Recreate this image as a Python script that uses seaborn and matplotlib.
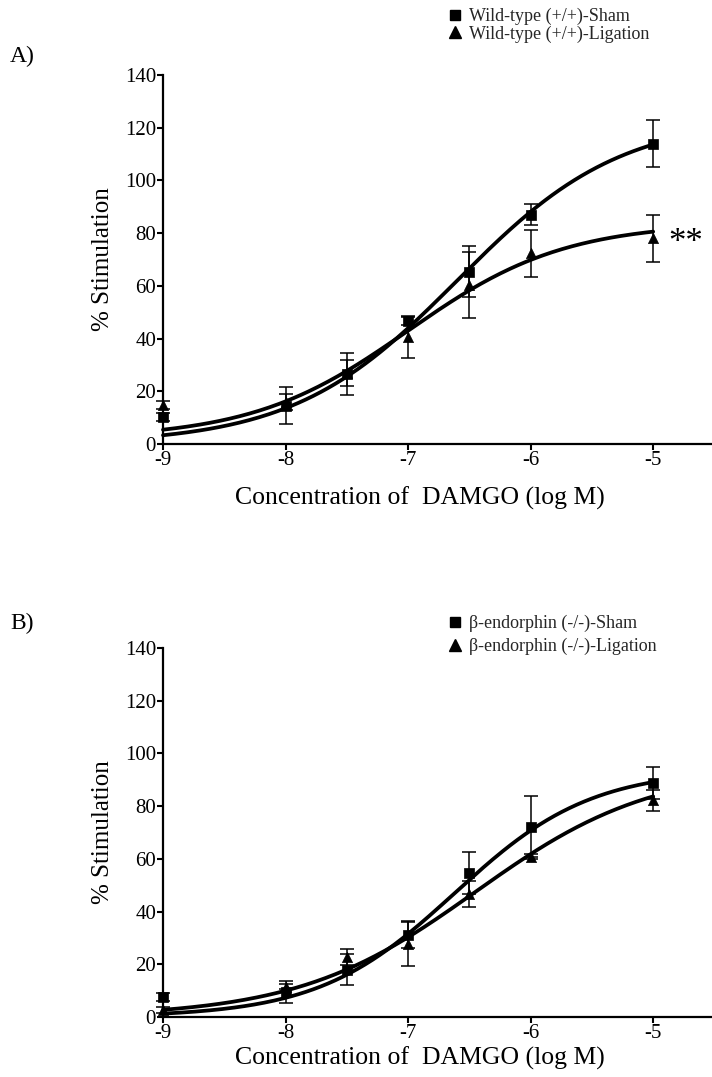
import numpy as np
import pandas as pd
import matplotlib
matplotlib.use("Agg")
import matplotlib.pyplot as plt
from matplotlib.lines import Line2D
import seaborn as sns

# ---------------- data ----------------
log_conc = [-9, -8, -7.5, -7, -6.5, -6, -5]

# Panel A : wild-type
a_sham = [10.2, 14.5, 26.5, 46.5, 65.4, 87.0, 114.0]
a_sham_err = [1.5, 7.0, 8.0, 1.5, 9.6, 4.0, 8.8]
a_lig = [14.8, 16.0, 27.0, 40.5, 60.3, 72.3, 78.0]
a_lig_err = [1.5, 3.0, 5.0, 8.0, 12.5, 8.8, 9.0]

# Panel B : beta-endorphin knockout
b_sham = [7.7, 9.6, 18.0, 31.1, 54.5, 72.2, 88.7]
b_sham_err = [1.5, 4.2, 6.0, 5.0, 8.0, 11.5, 6.0]
b_lig = [2.7, 11.5, 22.9, 27.8, 46.7, 60.8, 82.3]
b_lig_err = [1.0, 1.0, 3.0, 8.5, 5.0, 1.0, 4.0]

# fitted sigmoid (Hill) parameters: bottom, top, logEC50, hill slope
a_sham_fit = (0.0, 124.0, -6.6, 0.65)
a_lig_fit = (2.0, 84.0, -7.0, 0.68)
b_sham_fit = (0.0, 94.0, -6.62, 0.78)
b_lig_fit = (0.0, 95.0, -6.45, 0.60)

x_ticks = [-9, -8, -7, -6, -5]
y_ticks = [0, 20, 40, 60, 80, 100, 120, 140]

legend_a = ["Wild-type (+/+)-Sham", "Wild-type (+/+)-Ligation"]
legend_b = ["\u03b2-endorphin (-/-)-Sham", "\u03b2-endorphin (-/-)-Ligation"]
xlabel = "Concentration of  DAMGO (log M)"
ylabel = "% Stimulation"

# ---------------- style ----------------
sns.set_theme(style="ticks")
plt.rcParams["font.family"] = ["Liberation Serif", "DejaVu Serif"]

W, H = 712, 1077
fig = plt.figure(figsize=(W / 100, H / 100), dpi=100)
fig.patch.set_facecolor("white")


def hill(x, p):
    b, t, e, h = p
    return b + (t - b) / (1 + 10 ** ((e - x) * h))


def panel(ax_rect, sham, sham_err, lig, lig_err, fit_s, fit_l, labels,
          leg_anchor, leg_spacing, panel_label, panel_label_y, xlabel_y):
    ax = fig.add_axes(ax_rect)
    ax.set_facecolor("white")
    xs = np.linspace(-9, -5, 200)
    curves = pd.DataFrame({
        "x": np.concatenate([xs, xs]),
        "y": np.concatenate([hill(xs, fit_s), hill(xs, fit_l)]),
        "grp": ["s"] * len(xs) + ["l"] * len(xs),
    })
    sns.lineplot(data=curves, x="x", y="y", units="grp", estimator=None,
                 color="black", lw=2.7, ax=ax, clip_on=False)
    for vals, errs, mk, ms in [(lig, lig_err, "^", 7.3), (sham, sham_err, "s", 7.3)]:
        ax.errorbar(log_conc, vals, yerr=errs, fmt="none", ecolor="black",
                    elinewidth=1.1, capsize=4.8, capthick=1.1, clip_on=False, zorder=4)
        pts = pd.DataFrame({"x": log_conc, "y": vals})
        sns.scatterplot(data=pts, x="x", y="y", marker=mk, s=ms ** 2,
                        color="black", edgecolor="black", linewidth=0.5,
                        ax=ax, clip_on=False, zorder=5)
    ax.set_xlim(-9, -4.52)
    ax.set_ylim(0, 140)
    ax.set_xticks(x_ticks)
    ax.set_xticklabels([str(t) for t in x_ticks])
    ax.set_yticks(y_ticks)
    ax.set_yticklabels([str(t) for t in y_ticks])
    for s in ["top", "right"]:
        ax.spines[s].set_visible(False)
    for s in ["left", "bottom"]:
        ax.spines[s].set_linewidth(1.6)
        ax.spines[s].set_color("black")
    ax.tick_params(axis="both", direction="out", length=4.5, width=1.5,
                   color="black", labelsize=15, labelcolor="black", pad=0.5)
    ax.set_xlabel(xlabel, fontsize=18.5, color="black")
    ax.set_ylabel(ylabel, fontsize=18, color="black")
    ax.xaxis.set_label_coords(0.468, xlabel_y)
    ax.yaxis.set_label_coords(-0.089, 0.5)
    handles = [
        Line2D([], [], marker="s", ls="none", color="black", markersize=7),
        Line2D([], [], marker="^", ls="none", color="black", markersize=8),
    ]
    fig.legend(handles, labels, loc="upper left",
               bbox_to_anchor=(leg_anchor[0] / W, 1 - leg_anchor[1] / H),
               frameon=False, fontsize=13, handlelength=0.8,
               handletextpad=0.35, labelspacing=leg_spacing, borderpad=0,
               borderaxespad=0)
    fig.text(10 / W, 1 - panel_label_y / H, panel_label, fontsize=17,
             va="center", ha="left", color="black")
    return ax


ax_a = panel([163 / W, 1 - 444 / H, 549 / W, 369 / H], a_sham, a_sham_err,
             a_lig, a_lig_err, a_sham_fit, a_lig_fit, legend_a,
             (448, 8), 0.0, "A)", 56, -0.1165)
ax_a.text(-4.88, 76, "**", fontsize=25, ha="left", va="center", color="black")

ax_b = panel([163 / W, 1 - 1017 / H, 549 / W, 369 / H], b_sham, b_sham_err,
             b_lig, b_lig_err, b_sham_fit, b_lig_fit, legend_b,
             (448, 615), 0.3, "B)", 623, -0.081)

fig.savefig("out.png", dpi=100, facecolor="white")
